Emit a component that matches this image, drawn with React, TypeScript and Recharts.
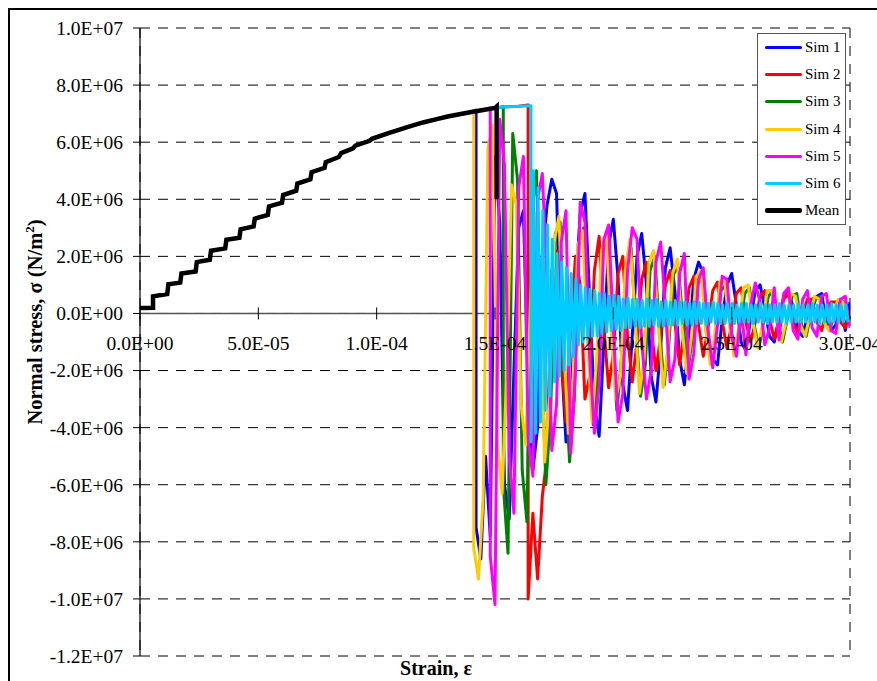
import {
  CartesianGrid,
  Line,
  LineChart,
  ReferenceDot,
  ReferenceLine,
  XAxis,
  YAxis,
} from "recharts";

const FONT = '"Liberation Serif", "DejaVu Serif", serif';

// strain in units of 1E-4, stress in units of 1E6 N/m2
const xTicks = [0, 0.5, 1, 1.5, 2, 2.5, 3];
const yTicks = [-12, -10, -8, -6, -4, -2, 0, 2, 4, 6, 8, 10];

// common loading path (all sims coincide before failure)
const loadStrain = [
  0, 0.055, 0.055, 0.115, 0.12, 0.17, 0.175, 0.235, 0.24, 0.295, 0.3, 0.36,
  0.365, 0.42, 0.425, 0.48, 0.485, 0.54, 0.545, 0.6, 0.605, 0.66, 0.665, 0.72,
  0.725, 0.78, 0.785, 0.84, 0.85, 0.9, 0.91, 0.97, 0.98, 1.05, 1.1, 1.15, 1.2,
  1.25, 1.3, 1.35, 1.4, 1.45, 1.5, 1.55, 1.6, 1.66,
];
const loadStress = [
  0.19, 0.2, 0.6, 0.68, 1.02, 1.08, 1.4, 1.47, 1.8, 1.88, 2.2, 2.28, 2.58, 2.65,
  2.95, 3.05, 3.32, 3.45, 3.75, 3.88, 4.15, 4.3, 4.55, 4.7, 4.95, 5.1, 5.3, 5.48,
  5.62, 5.78, 5.88, 6.05, 6.12, 6.32, 6.45, 6.58, 6.7, 6.8, 6.9, 6.98, 7.06,
  7.13, 7.2, 7.24, 7.26, 7.28,
];

const simNames = ["Sim 1", "Sim 2", "Sim 3", "Sim 4", "Sim 5", "Sim 6"];
const simColors = ["#0000FF", "#FF0000", "#008000", "#FFCC00", "#FF00FF", "#00CCFF"];
const simFail = [1.42, 1.64, 1.535, 1.41, 1.48, 1.652];
const simPeak = [7.12, 7.3, 7.24, 7.1, 7.2, 7.28];
const simStep = [0.02, 0.02, 0.02, 0.02, 0.02, 0.01];

const sim1Post = [
  -7.5, -8.6, -5.0, -7.8, 5.5, 3.2, -6.0, -7.2, -2.0, 3.0,
  3.6, -2.5, -5.5, -4.0, 2.0, 3.8, 4.7, 4.2, -1.5, -4.5,
  -3.6, 0.8, 3.5, 4.2, 0.5, -3.2, -4.3, -1.0, 2.4, 3.3,
  1.2, -2.5, -3.4, -0.8, 2.0, 2.8, 1.0, -2.2, -3.1, -1.2,
  1.6, 2.3, 0.8, -1.6, -2.5, -0.9, 1.2, 1.8, 1.4, -0.8,
  -1.6, -1.8, -0.2, 1.0, 1.4, 0.3, -1.0, -1.3, -0.2, 0.8,
  1.0, 0.2, -0.8, -1.0, -0.2, 0.6, 0.8, 0.2, -0.6, -0.8,
  -0.1, 0.5, 0.6, 0.7, -0.3, -0.6, -0.4, 0.3, -0.6, 0.4,
];
const sim2Post = [
  -10.0, -7.0, -9.3, -6.4, -5.0, 1.5, 2.2, -1.5, -3.8, -0.5,
  2.0, 1.0, -3.0, -2.2, 1.5, 2.7, -0.5, -2.6, -1.4, 1.4,
  2.0, -0.8, -2.4, -1.0, 1.2, 1.8, -0.5, -2.0, -0.8, 1.0,
  1.5, -0.3, -1.8, -0.6, 0.9, 1.3, -0.4, -1.5, -0.5, 0.8,
  1.1, -0.3, -1.2, -0.4, 0.7, 0.9, -0.3, -1.0, -0.3, 0.6,
  0.8, -0.2, -0.9, -0.2, 0.5, 0.7, -0.3, -0.7, 0.0, 0.5,
  0.5, -0.3, -0.6, 0.1, 0.4, 0.4, -0.3, -0.5, 0.1,
];
const sim3Post = [
  -6.0, -8.4, 6.3, 4.7, -5.5, -7.3, 3.5, 5.0, -1.0, -6.0,
  -3.5, 2.8, 3.2, -2.0, -5.2, -3.0, 2.5, 3.0, -1.2, -3.9,
  -2.0, 2.2, 2.8, -0.8, -3.4, -1.5, 1.8, 2.3, -0.5, -2.9,
  -1.8, 1.5, 2.0, -0.6, -2.5, -1.0, 1.4, 1.6, -0.4, -2.0,
  -0.8, 1.0, 1.3, -0.3, -1.7, -0.7, 0.8, 1.0, -0.4, -1.4,
  -0.5, 0.7, 0.9, -0.4, -1.2, -0.3, 0.6, 0.8, -0.3, -1.0,
  -0.2, 0.6, 0.7, -0.4, -0.8, 0.0, 0.5, 0.6, -0.3, -0.6,
  0.1, 0.5, 0.4, -0.3,
];
const sim4Post = [
  -8.2, -9.3, -6.5, 5.8, 6.6, -4.5, -6.3, -2.0, 4.5, 3.8,
  -3.2, -4.6, 0.5, 3.5, 1.0, -5.2, -3.0, 2.5, 3.4, -1.0,
  -4.2, -2.2, 2.4, 2.9, -0.8, -3.8, -1.5, 2.2, 2.8, -0.5,
  -3.0, -2.2, 1.5, 2.6, 0.2, -2.8, -1.6, 1.8, 2.2, -0.4,
  -2.6, -1.2, 1.4, 1.9, -0.5, -2.1, -0.8, 1.3, 1.5, -0.6,
  -1.8, -0.6, 1.1, 1.2, -0.4, -1.5, -0.5, 0.9, 1.0, -0.3,
  -1.2, -0.4, 0.8, 0.8, -0.3, -1.0, -0.3, 0.7, 0.6, -0.4,
  -0.8, -0.1, 0.6, 0.5, -0.3, -0.6, 0.0, 0.5, 0.4, -0.2,
];
const sim5Post = [
  -8.5, -10.2, 6.8, 5.2, -5.0, -7.0, 4.4, 5.5, -4.4, -5.7,
  4.0, 4.9, 1.0, -4.8, -3.2, 2.5, 3.6, -4.9, -2.0, 3.9,
  3.2, -1.5, -4.2, -2.5, 2.6, 3.1, -0.5, -3.8, -2.8, 1.5,
  3.0, 2.6, -1.0, -3.0, -2.0, 1.8, 2.5, 0.2, -2.4, -1.6,
  1.4, 2.1, -2.3, -1.4, 1.2, 1.6, -0.6, -1.9, -0.4, 1.3,
  1.2, -0.8, -1.5, 0.2, -1.45, 0.3, 1.07, 0.4, -1.1, -0.5,
  0.9, -0.93, 0.7, 0.9, -0.6, -0.9, 0.5, 0.8, -0.5, -0.8,
  0.6, 0.7, -0.6, -0.7, 0.5, 0.6, -0.5,
];
const sim6Post = [
  -4.5, 5.0, -4.2, 4.4, -3.8, 3.6, -3.4, 3.1, -2.9, 2.6,
  -2.4, 2.1, -2.2, 1.8, -2.0, 1.6, -1.8, 1.4, -1.5, 1.2,
  -1.1, 1.0, -1.0, 0.9, -0.9, 0.85, -0.8, 0.8, -0.8, 0.7,
  -0.7, 0.7, -0.65, 0.6, -0.6, 0.65, -0.55, 0.6, -0.6, 0.5,
  -0.5, 0.55, -0.5, 0.5, -0.45, 0.5, -0.5, 0.45, -0.45, 0.5,
  -0.45, 0.45, -0.4, 0.5, -0.45, 0.4, -0.45, 0.45, -0.4, 0.4,
  -0.4, 0.45, -0.4, 0.4, -0.35, 0.4, -0.4, 0.35, -0.4, 0.4,
  -0.35, 0.4, -0.35, 0.35, -0.4, 0.35, -0.3, 0.4, -0.35, 0.35,
  -0.35, 0.3, -0.35, 0.35, -0.3, 0.35, -0.35, 0.3, -0.3, 0.35,
  -0.3, 0.35, -0.3, 0.3, -0.35, 0.3, -0.3, 0.35, -0.3, 0.3,
  -0.35, 0.3, -0.3, 0.3, -0.3, 0.35, -0.3, 0.3, -0.35, 0.3,
  -0.3, 0.3, -0.3, 0.35, -0.3, 0.3, -0.3, 0.3, -0.3, 0.35,
  -0.3, 0.3, -0.35, 0.3, -0.3, 0.3, -0.3, 0.35, -0.3, 0.3,
  -0.3, 0.3, -0.3, 0.3, -0.3,
];
const simPosts = [sim1Post, sim2Post, sim3Post, sim4Post, sim5Post, sim6Post];

const meanFail = 1.507;
const meanPeak = 7.25;
const meanEnd = 4.0;

function sci(v: number) {
  if (v === 0) return "0.0E+00";
  const [m, e] = v.toExponential(1).split("e");
  const n = parseInt(e, 10);
  return `${m}E${n < 0 ? "-" : "+"}${String(Math.abs(n)).padStart(2, "0")}`;
}

function loadPathBefore(limit: number) {
  const pts: { x: number; y: number }[] = [];
  loadStrain.forEach((s, i) => {
    if (s < limit) pts.push({ x: s, y: loadStress[i] });
  });
  return pts;
}

const simData = simPosts.map((post, k) => [
  ...loadPathBefore(simFail[k]),
  { x: simFail[k], y: simPeak[k] },
  ...post.map((v, i) => ({ x: simFail[k] + i * simStep[k], y: v })),
]);

const meanData = [
  ...loadPathBefore(meanFail),
  { x: meanFail, y: meanPeak },
  { x: meanFail, y: meanEnd },
];

function XTick(props: any) {
  const { cx, cy, label } = props;
  return (
    <g>
      <line x1={cx} x2={cx} y1={cy - 6} y2={cy + 6} stroke="#000" />
      <text
        x={cx}
        y={cy + 37}
        textAnchor="middle"
        fontSize={19.5}
        style={{ fontFamily: FONT }}
        fill="#000"
      >
        {label}
      </text>
    </g>
  );
}

const legendItems = [
  ...simNames.map((n, i) => ({ name: n, color: simColors[i], width: 3 })),
  { name: "Mean", color: "#000", width: 4.5 },
];

export default function App() {
  return (
    <div
      style={{
        position: "fixed",
        inset: 0,
        overflow: "hidden",
        background: "#fff",
        fontFamily: FONT,
      }}
    >
      <div
        style={{
          position: "absolute",
          left: 8,
          top: 8,
          width: 900,
          height: 700,
          borderLeft: "2px solid #000",
          borderTop: "2px solid #000",
        }}
      />
      <div style={{ position: "absolute", left: 0, top: 0 }}>
        <LineChart
          width={877}
          height={681}
          margin={{ top: 28, right: 27, bottom: 25, left: 40 }}
          style={{ fontFamily: FONT }}
        >
          <CartesianGrid stroke="#000" strokeDasharray="10 8" strokeWidth={1} />
          <XAxis
            type="number"
            dataKey="x"
            domain={[0, 3]}
            ticks={xTicks}
            allowDataOverflow
            tick={false}
            tickLine={false}
            height={0}
            axisLine={{ stroke: "#808080", strokeWidth: 1.5 }}
          />
          <XAxis
            xAxisId="top"
            orientation="top"
            type="number"
            domain={[0, 3]}
            ticks={xTicks}
            tick={false}
            tickLine={false}
            height={0}
            axisLine={{ stroke: "#808080", strokeWidth: 1.5 }}
          />
          <YAxis
            type="number"
            domain={[-12, 10]}
            ticks={yTicks}
            interval={0}
            allowDataOverflow
            width={100}
            tickSize={7}
            tickMargin={10}
            axisLine={{ stroke: "#000", strokeWidth: 1.2 }}
            tickLine={{ stroke: "#000" }}
            tick={{ fill: "#000", fontSize: 19.5, style: { fontFamily: FONT } }}
            tickFormatter={(v: number) => sci(v * 1e6)}
          />
          <YAxis
            yAxisId="right"
            orientation="right"
            type="number"
            domain={[-12, 10]}
            ticks={yTicks}
            width={0}
            tick={false}
            tickLine={false}
            axisLine={{ stroke: "#808080", strokeWidth: 1.5 }}
          />
          <ReferenceLine y={0} stroke="#555" strokeWidth={1.5} />
          {simData.map((d, i) => (
            <Line
              key={simNames[i]}
              data={d}
              dataKey="y"
              name={simNames[i]}
              type="linear"
              stroke={simColors[i]}
              strokeWidth={3}
              strokeLinejoin="round"
              dot={false}
              activeDot={false}
              isAnimationActive={false}
            />
          ))}
          <Line
            data={meanData}
            dataKey="y"
            name="Mean"
            type="linear"
            stroke="#000"
            strokeWidth={4.5}
            dot={false}
            activeDot={false}
            isAnimationActive={false}
          />
          {xTicks.map((t) => (
            <ReferenceDot
              key={t}
              x={t}
              y={0}
              r={1}
              ifOverflow="visible"
              shape={(p: any) => <XTick {...p} label={sci(t * 1e-4)} />}
            />
          ))}
        </LineChart>
      </div>

      <div
        style={{
          position: "absolute",
          left: 35,
          top: 322,
          transform: "translate(-50%, -50%) rotate(-90deg)",
          fontWeight: "bold",
          fontSize: 20.5,
          whiteSpace: "nowrap",
          lineHeight: 1,
        }}
      >
        Normal stress, σ (N/m
        <span style={{ fontSize: 13, position: "relative", top: -8 }}>2</span>)
      </div>

      <div
        style={{
          position: "absolute",
          left: 436,
          top: 668,
          transform: "translate(-50%, -50%)",
          fontWeight: "bold",
          fontSize: 20,
          whiteSpace: "nowrap",
          lineHeight: 1,
        }}
      >
        Strain, ε
      </div>

      <div
        style={{
          position: "absolute",
          left: 757,
          top: 33,
          width: 89,
          height: 192,
          boxSizing: "border-box",
          border: "1.5px solid #555",
          background: "#fff",
        }}
      >
        {legendItems.map((it) => (
          <div
            key={it.name}
            style={{
              display: "flex",
              alignItems: "center",
              height: 27.2,
            }}
          >
            <div
              style={{
                marginLeft: 7,
                width: 37,
                height: it.width,
                background: it.color,
                borderRadius: 2,
              }}
            />
            <span style={{ marginLeft: 3, fontSize: 15, color: "#000" }}>
              {it.name}
            </span>
          </div>
        ))}
      </div>
    </div>
  );
}
